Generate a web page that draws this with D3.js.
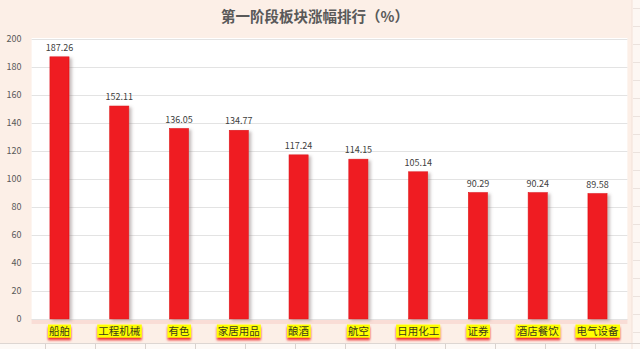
<!DOCTYPE html>
<html>
<head>
<meta charset="utf-8">
<script src="https://cdn.jsdelivr.net/npm/d3@7/dist/d3.min.js"></script>
<style>
  html, body { margin: 0; padding: 0; background: #fcefe7; }
  svg { display: block; }
</style>
</head>
<body>
<svg id="chart" width="640" height="349"></svg>
<script>
// Sector gains in the first stage (%)
const categories = ["船舶", "工程机械", "有色", "家居用品", "酿酒", "航空", "日用化工", "证券", "酒店餐饮", "电气设备"];
const gains = [187.26, 152.11, 136.05, 134.77, 117.24, 114.15, 105.14, 90.29, 90.24, 89.58];
const yTicks = [0, 20, 40, 60, 80, 100, 120, 140, 160, 180, 200];
const titleText = "第一阶段板块涨幅排行（%）";

const W = 640, H = 349;
const plot = { left: 29.6, right: 627.4, top: 39, bottom: 319 };
const font = "'Noto Sans CJK SC', 'Noto Sans', sans-serif";

const svg = d3.select("#chart");

const defs = svg.append("defs");
const shadow = defs.append("filter").attr("id", "barShadow")
  .attr("x", "-30%").attr("y", "-10%").attr("width", "180%").attr("height", "130%");
shadow.append("feDropShadow").attr("dx", 2.5).attr("dy", 1.5).attr("stdDeviation", 1.4)
  .attr("flood-color", "#7a6a6a").attr("flood-opacity", 0.45);
const tagShadow = defs.append("filter").attr("id", "tagShadow")
  .attr("x", "-20%").attr("y", "-30%").attr("width", "140%").attr("height", "190%");
tagShadow.append("feDropShadow").attr("dx", 0).attr("dy", 2.5).attr("stdDeviation", 1.2)
  .attr("flood-color", "#ee1010").attr("flood-opacity", 0.9);

// outer chart area
svg.append("rect").attr("width", W).attr("height", H).attr("fill", "#fcefe7");

// sheet cells peeking out at the right and bottom edges
const sheet = svg.append("g");
sheet.append("rect").attr("x", 632).attr("y", 0).attr("width", 8).attr("height", H).attr("fill", "#fdf7f3");
sheet.append("rect").attr("x", 0).attr("y", 343).attr("width", W).attr("height", 6).attr("fill", "#fdf9f6");
sheet.append("line").attr("x1", 632).attr("x2", 632).attr("y1", 0).attr("y2", H).attr("stroke", "#f3e1d8");
sheet.append("line").attr("x1", 0).attr("x2", W).attr("y1", 343.5).attr("y2", 343.5).attr("stroke", "#ddd6d2");
d3.range(45, 640, 50).forEach(x => {
  sheet.append("line").attr("x1", x + 0.5).attr("x2", x + 0.5).attr("y1", 344).attr("y2", H).attr("stroke", "#d9d2ce");
});
d3.range(8, 349, 18).forEach(y => {
  sheet.append("line").attr("x1", 633).attr("x2", W).attr("y1", y + 0.5).attr("y2", y + 0.5).attr("stroke", "#ebe2dd");
});

const x = d3.scaleBand().domain(categories).range([plot.left, plot.right]).paddingInner(0.68).paddingOuter(0.34);
const y = d3.scaleLinear().domain([0, 200]).range([plot.bottom, plot.top]);

// plot area
svg.append("rect").attr("x", plot.left + 2).attr("y", plot.top - 1)
  .attr("width", plot.right - plot.left - 2).attr("height", plot.bottom - plot.top + 1)
  .attr("fill", "#ffffff");
// band beneath the category axis
svg.append("rect").attr("x", plot.left + 2).attr("y", plot.bottom)
  .attr("width", plot.right - plot.left - 2).attr("height", 5).attr("fill", "#f9ddd6");

// gridlines and y labels
const yAxis = d3.axisLeft(y).tickValues(yTicks).tickSize(-(plot.right - plot.left - 2)).tickPadding(10);
const gy = svg.append("g").attr("transform", `translate(${plot.left + 2},0)`).call(yAxis);
gy.select(".domain").remove();
gy.selectAll(".tick line").attr("stroke", "#e3e3e3").attr("stroke-width", 1);
gy.selectAll(".tick text").attr("fill", "#595959").attr("font-size", 9).attr("font-family", font);

// bars
svg.append("g").selectAll("rect").data(categories).join("rect")
  .attr("x", d => x(d))
  .attr("y", (d, i) => y(gains[i]))
  .attr("width", x.bandwidth())
  .attr("height", (d, i) => y(0) - y(gains[i]))
  .attr("fill", "#ef1d22")
  .attr("stroke", "#e01419").attr("stroke-width", 0.6)
  .attr("filter", "url(#barShadow)");

// value labels
svg.append("g").selectAll("text").data(categories).join("text")
  .attr("x", d => x(d) + x.bandwidth() / 2)
  .attr("y", (d, i) => y(gains[i]) - 6)
  .attr("text-anchor", "middle")
  .attr("font-size", 9).attr("font-family", font).attr("fill", "#404040")
  .text((d, i) => gains[i].toFixed(2));

// category tags
const tags = svg.append("g").selectAll("g").data(categories).join("g")
  .attr("transform", d => `translate(${x(d) + x.bandwidth() / 2},331)`);
tags.append("text")
  .attr("text-anchor", "middle").attr("dy", "0.36em")
  .attr("font-size", 10.5).attr("font-family", font).attr("fill", "#3d3a1a")
  .text(d => d);
tags.each(function () {
  const g = d3.select(this);
  const bb = g.select("text").node().getBBox();
  g.insert("rect", "text")
    .attr("x", bb.x - 1).attr("y", -6.5)
    .attr("width", bb.width + 2).attr("height", 13)
    .attr("fill", "#ffff00")
    .attr("filter", "url(#tagShadow)");
});

// title
svg.append("text").attr("x", 315).attr("y", 22).attr("text-anchor", "middle")
  .attr("font-size", 14.5).attr("font-weight", "bold").attr("font-family", font)
  .attr("fill", "#595959").text(titleText);
</script>
</body>
</html>
